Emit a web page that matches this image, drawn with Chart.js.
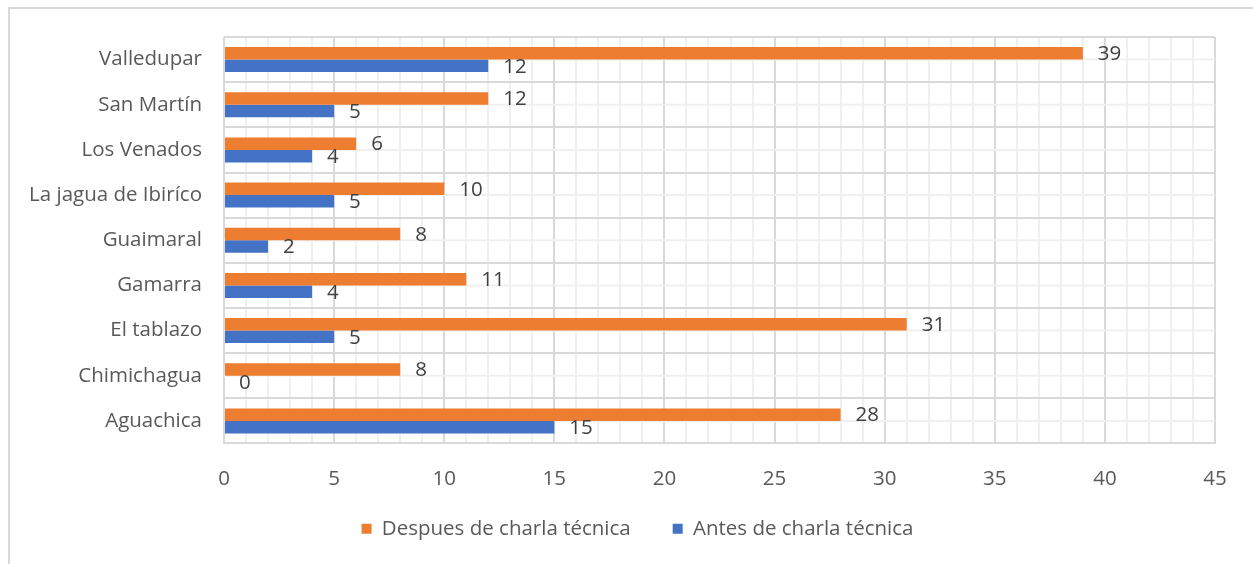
<!DOCTYPE html>
<html>
<head>
<meta charset="utf-8">
<script src="https://cdn.jsdelivr.net/npm/chart.js@4"></script>
<style>
  body { margin: 0; background: #fff; }
  #frame {
    position: absolute; left: 8px; top: 7px; right: 0; bottom: 0;
    border-top: 2px solid #d9d9d9; border-left: 2px solid #d9d9d9;
  }
  #wrap { position: absolute; left: 0; top: 0; width: 1253px; height: 564px; }
</style>
</head>
<body>
<div id="frame"></div>
<div id="wrap"><canvas id="chart"></canvas></div>
<script>
const municipios = ['Valledupar', 'San Martín', 'Los Venados', 'La jagua de Ibiríco', 'Guaimaral',
  'Gamarra', 'El tablazo', 'Chimichagua', 'Aguachica'];
const despues = [39, 12, 6, 10, 8, 11, 31, 8, 28];
const antes = [12, 5, 4, 5, 2, 4, 5, 0, 15];
const seriesNames = ['Despues de charla técnica', 'Antes de charla técnica'];

const FONT = '"Open Sans", Lato, sans-serif';
const FSIZE = 20.5;
const MAJOR = '#d9d9d9';
const MINOR = '#f0f0f0';

// minor horizontal lines through category centres
const minorRows = {
  id: 'minorRows',
  beforeDatasetsDraw(chart) {
    const { ctx, chartArea, scales } = chart;
    ctx.save();
    ctx.strokeStyle = MINOR;
    ctx.lineWidth = 2;
    municipios.forEach((m, i) => {
      const y = scales.y.getPixelForValue(i);
      ctx.beginPath();
      ctx.moveTo(chartArea.left, y);
      ctx.lineTo(chartArea.right, y);
      ctx.stroke();
    });
    ctx.restore();
  }
};

// value labels after the bar ends
const valueLabels = {
  id: 'valueLabels',
  afterDatasetsDraw(chart) {
    const { ctx } = chart;
    ctx.save();
    ctx.font = FSIZE + 'px ' + FONT;
    ctx.fillStyle = '#404040';
    ctx.textAlign = 'left';
    ctx.textBaseline = 'middle';
    chart.data.datasets.forEach((ds, di) => {
      chart.getDatasetMeta(di).data.forEach((bar, i) => {
        ctx.fillText(String(ds.data[i]), bar.x + 15, bar.y + 1);
      });
    });
    ctx.restore();
  }
};

new Chart(document.getElementById('chart'), {
  type: 'bar',
  data: {
    labels: municipios,
    datasets: [
      { label: seriesNames[0], data: despues, backgroundColor: '#ED7D31' },
      { label: seriesNames[1], data: antes, backgroundColor: '#4472C4' },
    ],
  },
  options: {
    indexAxis: 'y',
    responsive: true,
    maintainAspectRatio: false,
    animation: false,
    datasets: { bar: { categoryPercentage: 0.555, barPercentage: 1.0 } },
    layout: { padding: { top: 37, right: 0, left: 22, bottom: 15 } },
    scales: {
      x: {
        min: 0, max: 45,
        ticks: {
          stepSize: 1, autoSkip: false, maxRotation: 0,
          padding: 23, color: '#595959', font: { family: FONT, size: FSIZE },
          callback: (v) => (v % 5 === 0 ? String(v) : ''),
        },
        grid: {
          drawTicks: false, lineWidth: 2,
          color: (c) => (c.tick && c.tick.value % 5 === 0 ? MAJOR : MINOR),
        },
        border: { display: false },
        afterFit: (s) => { s.height = 65; },
      },
      y: {
        ticks: { padding: 22, color: '#595959', font: { family: FONT, size: FSIZE } },
        grid: { drawTicks: false, lineWidth: 2, color: MAJOR, offset: true },
        border: { display: false },
        afterFit: (s) => { s.width = 202; },
      },
      // empty right-hand margin so the legend centres like the original
      yRight: {
        type: 'category', position: 'right',
        ticks: { display: false }, grid: { display: false }, border: { display: false },
        afterFit: (s) => { s.width = 38; },
      },
    },
    plugins: {
      legend: {
        position: 'bottom',
        labels: {
          color: '#595959', font: { family: FONT, size: FSIZE },
          boxWidth: 10, boxHeight: 10, padding: 10,
          generateLabels: (chart) => {
            const items = Chart.defaults.plugins.legend.labels.generateLabels(chart);
            // wider gap between the two entries
            items[0].text += '\u00a0'.repeat(6);
            return items;
          },
        },
      },
      tooltip: { enabled: false },
    },
  },
  plugins: [minorRows, valueLabels],
});
</script>
</body>
</html>
